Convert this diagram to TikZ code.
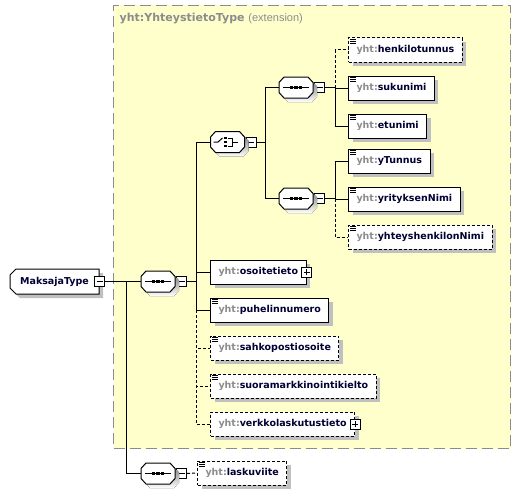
\documentclass[tikz,border=0pt]{standalone}
\usepackage{fontspec}
\setmainfont{DejaVu Sans}
\newfontfamily\narrowfont{Liberation Sans}
\usepackage{tikz}
\usetikzlibrary{positioning, shapes.misc, shadows}
\usepackage{xcolor}

\definecolor{extfill}{HTML}{FFFFCC}
\definecolor{extline}{HTML}{8C8C8C}
\definecolor{shade}{HTML}{C0C0C0}
\definecolor{prefix}{HTML}{8C8C8C}
\definecolor{ename}{HTML}{000033}

\newcommand{\elfont}{\fontsize{9.5pt}{11pt}\selectfont\bfseries}
\newcommand{\titlefont}{\fontsize{11pt}{13pt}\selectfont\bfseries}
\newcommand{\yht}[1]{\textcolor{prefix}{yht:}#1}
% kahdeksankulmio sekvenssille ja valinnalle
\newcommand{\octa}{(-17,-5) -- (-12,-10.5) -- (12,-10.5) -- (17,-5) -- (17,5) -- (12,10.5) -- (-12,10.5) -- (-17,5) -- cycle}

\tikzset{
	elem/.style={draw, fill=white, line width=1pt, minimum height=24pt, inner xsep=8pt, inner ysep=0pt, anchor=west, font=\elfont, text=ename, drop shadow={shadow xshift=4pt, shadow yshift=-4pt, fill=shade, opacity=1}},
	optelem/.style={elem, dash pattern=on 3pt off 2pt},
	compositor/.style={rectangle, minimum width=34pt, minimum height=21pt, inner sep=0pt},
	collapse/.style={draw, fill=white, line width=0.8pt, minimum size=10pt, inner sep=0pt, path picture={\draw[line width=0.8pt] ([xshift=2pt]path picture bounding box.west) -- ([xshift=-2pt]path picture bounding box.east);}},
	expand/.style={collapse, path picture={\draw[line width=0.8pt] ([xshift=2pt]path picture bounding box.west) -- ([xshift=-2pt]path picture bounding box.east) ([yshift=2pt]path picture bounding box.south) -- ([yshift=-2pt]path picture bounding box.north);}},
	conn/.style={line width=1pt},
	optconn/.style={conn, dash pattern=on 3pt off 2pt},
}

\begin{document}
\begin{tikzpicture}[x=1pt, y=-1pt]
	\useasboundingbox (0,0) rectangle (521,495);
	
	% extension-laatikko
	\node[draw=extline, fill=extfill, line width=1pt, dash pattern=on 11pt off 5pt, minimum width=397pt, minimum height=443pt, anchor=north west, inner sep=0pt] (ext) at (113,5) {};
	\node[anchor=west, inner sep=0pt, font=\titlefont, text=prefix] (exttitle) at (119.5,19) {yht:YhteystietoType {\narrowfont\mdseries (extension)}};
	
	% juurielementti
	\node[chamfered rectangle, chamfered rectangle corners={north west, south west}, chamfered rectangle sep=3pt, draw, fill=white, line width=1pt, minimum width=89pt, minimum height=25pt, inner sep=0pt, font=\elfont, text=ename, drop shadow={shadow xshift=4pt, shadow yshift=-4pt, fill=shade, opacity=1}] (maksaja) at (54.5,281.5) {MaksajaType\hspace{8pt}};
	\node[collapse] (mminus) at (maksaja.east) {};
	
	% sekvenssit ja valinta
	\node[compositor] (seqA) at (158,281.5) {};
	\node[collapse, right=1pt of seqA] (aminus) {};
	\node[compositor] (seqB) at (158,473.5) {};
	\node[collapse, right=1pt of seqB] (bminus) {};
	\node[compositor] (choice) at (227.5,142) {};
	\node[collapse, right=1pt of choice] (cminus) {};
	\node[compositor] (seq1) at (296,87.5) {};
	\node[collapse, right=1pt of seq1] (s1minus) {};
	\node[compositor] (seq2) at (296,198.5) {};
	\node[collapse, right=1pt of seq2] (s2minus) {};
	
	% henkilo
	\node[optelem] (henk) at (348,50) {\yht{henkilotunnus}};
	\node[elem, below right=13pt and 0pt of henk.south west] (suku) {\yht{sukunimi}};
	\node[elem, below right=13pt and 0pt of suku.south west] (etu) {\yht{etunimi}};
	% yritys
	\node[elem] (ytun) at (348,161) {\yht{yTunnus}};
	\node[elem, below right=13pt and 0pt of ytun.south west] (yrit) {\yht{yrityksenNimi}};
	\node[optelem, below right=13pt and 0pt of yrit.south west] (yhtey) {\yht{yhteyshenkilonNimi}};
	% muut yhteystiedot
	\node[elem] (osoite) at (210,272) {\yht{osoitetieto}\hspace{5pt}};
	\node[expand] (osoiteplus) at (osoite.east) {};
	\node[elem, below right=13pt and 0pt of osoite.south west] (puhelin) {\yht{puhelinnumero}};
	\node[optelem, below right=13pt and 0pt of puhelin.south west] (sahko) {\yht{sahkopostiosoite}};
	\node[optelem, below right=13pt and 0pt of sahko.south west] (suora) {\yht{suoramarkkinointikielto}};
	\node[optelem, below right=13pt and 0pt of suora.south west] (verkko) {\yht{verkkolaskutustieto}\hspace{5pt}};
	\node[expand] (verkkoplus) at (verkko.east) {};
	\node[optelem] (lasku) at (197,473) {\yht{laskuviite}};
	
	% yhteydet
	\draw[conn] (mminus.east) -- (seqA.west);
	\draw[conn] (mminus.east) -- ++(22,0) |- (seqB.west);
	\draw[optconn] (bminus.east) -- (lasku.west);
	
	\draw[conn] (aminus.east) -- ++(9,0) coordinate (abus) |- (choice.west);
	\draw[conn] (abus) |- (osoite.west);
	\draw[conn] (abus) |- (puhelin.west);
	\draw[optconn] (abus |- puhelin.west) |- (sahko.west);
	\draw[optconn] (abus |- puhelin.west) |- (suora.west);
	\draw[optconn] (abus |- puhelin.west) |- (verkko.west);
	
	\draw[conn] (cminus.east) -- ++(9,0) coordinate (cbus) |- (seq1.west);
	\draw[conn] (cbus) |- (seq2.west);
	
	\draw[conn] (s1minus.east) -- ++(10,0) coordinate (s1bus) |- (suku.west);
	\draw[conn] (s1bus) |- (etu.west);
	\draw[optconn] (s1bus) |- (henk.west);
	
	\draw[conn] (s2minus.east) -- ++(10,0) coordinate (s2bus) |- (yrit.west);
	\draw[conn] (s2bus) |- (ytun.west);
	\draw[optconn] (s2bus) |- (yhtey.west);
	
	% kuvakkeet
	\foreach \s in {seqA, seqB, seq1, seq2, choice}{
		\begin{scope}[shift={(\s.center)}]
			\fill[shade, shift={(4,4)}] \octa;
			\draw[line width=1pt, fill=white] \octa;
		\end{scope}
	}
	\foreach \s in {seqA, seqB, seq1, seq2}{
		\begin{scope}[shift={(\s.center)}]
			\draw[line width=1pt] (-13,0) -- (13,0);
			\foreach \dx in {-4.5, 0, 4.5}
				\fill (\dx-1.7,-1.7) rectangle (\dx+1.7,1.7);
		\end{scope}
	}
	\begin{scope}[shift={(choice.center)}]
		\draw[line width=1pt] (-14,0) -- (-9.5,0) -- (-5,-4);
		\foreach \dy in {-4, 0, 4}
			\fill (-3.2,\dy-1.4) rectangle (-0.4,\dy+1.4);
		\draw[line width=1pt] (0,-4) -- (4.5,-4) -- (4.5,4) -- (0,4) (4.5,0) -- (10,0);
	\end{scope}
	\foreach \e in {henk, suku, etu, ytun, yrit, yhtey, puhelin, sahko, suora, lasku}
		\foreach \dy in {1.7, 3.7, 5.7}
			\draw[line width=0.9pt] ([shift={(2,\dy)}]\e.north west) -- ++(5.5,0);
	
\end{tikzpicture}
\end{document}
